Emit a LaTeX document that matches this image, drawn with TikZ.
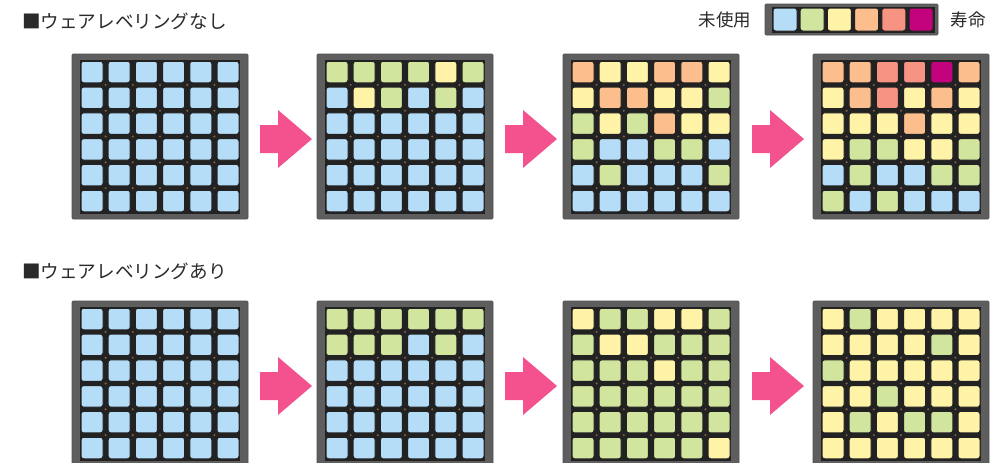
\documentclass[tikz,border=0pt]{standalone}
\usepackage{fontspec}
\newfontfamily\jp{Noto Sans CJK JP}
\usetikzlibrary{calc}
\definecolor{cB}{HTML}{B5DDF8}
\definecolor{cG}{HTML}{D2E59E}
\definecolor{cY}{HTML}{FFF3A8}
\definecolor{cO}{HTML}{FBBE8C}
\definecolor{cS}{HTML}{F79383}
\definecolor{cM}{HTML}{C2037D}
\definecolor{framegray}{HTML}{5E5E5E}
\definecolor{gapdark}{HTML}{222222}
\definecolor{dotbrown}{HTML}{7A5C48}
\definecolor{arrowpink}{HTML}{F4528E}
\definecolor{txt}{HTML}{2A2A2A}
\tikzset{
  gridframe/.style={rectangle, fill=framegray, draw=framegray!85!black, line width=0.6pt,
    minimum width=176pt, minimum height=165pt, inner sep=0pt, outer sep=0pt, rounded corners=1pt},
  legframe/.style={rectangle, fill=framegray, draw=framegray!85!black, line width=0.6pt,
    minimum width=173pt, minimum height=31pt, inner sep=0pt, outer sep=0pt, rounded corners=1pt},
  cell/.style={rectangle, rounded corners=2.5pt, draw=gapdark, line width=1pt,
    minimum width=22pt, minimum height=21.5pt, inner sep=0pt, outer sep=0pt},
  legcell/.style={cell, minimum width=24pt, minimum height=23pt},
  label/.style={font=\jp\fontsize{17.5}{20}\selectfont, text=txt, inner sep=0pt},
  title/.style={label, font=\jp\fontsize{18.6}{21}\selectfont},
}
\newcommand\memgrid[4]{%
  \node[gridframe, anchor=north west] (#1) at (#2,#3) {};
  \fill[gapdark] ($(#1.north west)+(8,5.5)$) rectangle ($(#1.north west)+(168,159.5)$);
  \foreach \row [count=\r] in {#4} {
    \foreach \c [count=\k] in \row {
      \node[cell, fill=c\c] (#1-\r-\k) at ($(#1.north west)+({20+(\k-1)*27.2},{18+(\r-1)*25.8})$) {};
    }
  }
  \foreach \i in {1,...,5} {
    \foreach \j in {1,...,5} {
      \fill[dotbrown] ($(#1.north west)+({33.6+(\i-1)*27.2},{30.9+(\j-1)*25.8})$) circle (1.2);
    }
  }
}
\newcommand\pinkarrow[3]{%
  \coordinate (#1) at (#2,#3);
  \fill[arrowpink, shift={(#1)}] (0,-14) -- (18,-14) -- (18,-29) -- (52,0) -- (18,29) -- (18,14) -- (0,14) -- cycle;
}
\begin{document}
\begin{tikzpicture}[x=1pt, y=-1pt]
\useasboundingbox (0,0) rectangle (1007,463);
\clip (0,0) rectangle (1007,463);
\fill[white] (0,0) rectangle (1007,463);

% titles
\node[title, anchor=west] (t1) at (22,21) {■ウェアレベリングなし};
\node[title, anchor=west] (t2) at (22,271) {■ウェアレベリングあり};

% legend
\node[label] (unused) at (725,20) {未使用};
\node[label] (life) at (968,20) {寿命};
\node[legframe, anchor=north west] (leg) at (765,4) {};
\fill[gapdark] (771.5,6.5) rectangle (934.5,32.5);
\foreach \c [count=\k] in {B,G,Y,O,S,M} {
  \node[legcell, fill=c\c] (leg-\k) at ({785+(\k-1)*27.2},19.5) {};
}

% top row: without wear leveling
\memgrid{a1}{72}{54}{{B,B,B,B,B,B},{B,B,B,B,B,B},{B,B,B,B,B,B},{B,B,B,B,B,B},{B,B,B,B,B,B},{B,B,B,B,B,B}}
\memgrid{a2}{317}{54}{{G,G,G,G,Y,G},{B,Y,G,B,G,B},{B,B,B,B,B,B},{B,B,B,B,B,B},{B,B,B,B,B,B},{B,B,B,B,B,B}}
\memgrid{a3}{563}{54}{{O,Y,Y,O,O,Y},{Y,O,O,Y,Y,G},{G,Y,G,O,Y,Y},{G,B,B,G,G,B},{B,G,B,B,B,G},{B,B,B,B,B,B}}
\memgrid{a4}{813}{54}{{O,O,S,S,M,O},{Y,O,S,Y,O,Y},{Y,Y,Y,O,Y,Y},{Y,G,G,Y,Y,G},{B,G,B,B,G,G},{G,B,G,B,B,B}}
\pinkarrow{pa1}{260}{139}
\pinkarrow{pa2}{505}{139}
\pinkarrow{pa3}{752}{139}

% bottom row: with wear leveling
\memgrid{b1}{72}{301}{{B,B,B,B,B,B},{B,B,B,B,B,B},{B,B,B,B,B,B},{B,B,B,B,B,B},{B,B,B,B,B,B},{B,B,B,B,B,B}}
\memgrid{b2}{317}{301}{{G,G,G,G,G,G},{G,G,G,B,G,B},{B,B,B,B,B,B},{B,B,B,B,B,B},{B,B,B,B,B,B},{B,B,B,B,B,B}}
\memgrid{b3}{563}{301}{{Y,G,G,Y,Y,G},{G,Y,Y,G,G,G},{G,G,G,Y,G,G},{G,G,G,G,G,G},{G,G,G,G,G,G},{G,G,G,G,G,Y}}
\memgrid{b4}{813}{301}{{Y,G,Y,Y,Y,Y},{Y,Y,Y,Y,G,Y},{G,Y,Y,Y,Y,Y},{Y,Y,G,Y,Y,Y},{Y,G,Y,G,G,Y},{Y,Y,Y,Y,Y,Y}}
\pinkarrow{pb1}{260}{386}
\pinkarrow{pb2}{505}{386}
\pinkarrow{pb3}{752}{386}
\end{tikzpicture}
\end{document}
